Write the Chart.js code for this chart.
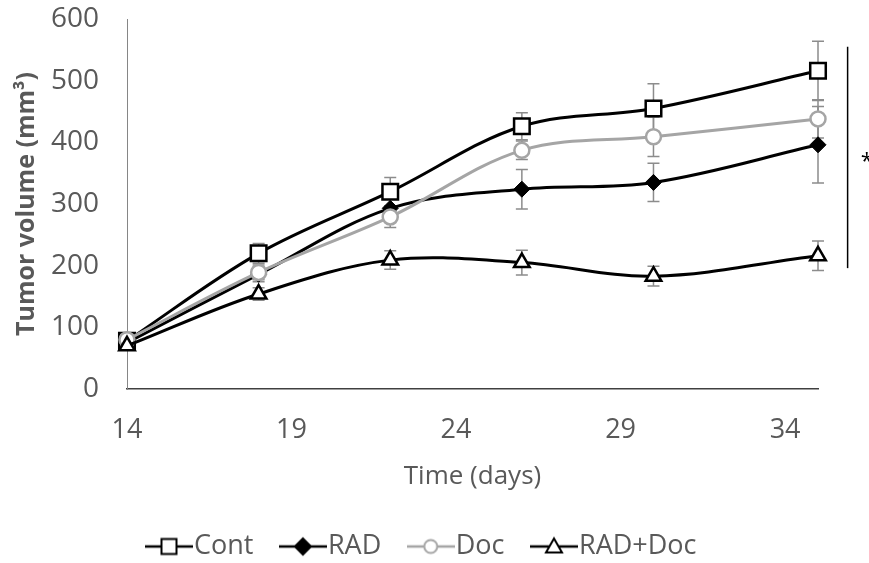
<!DOCTYPE html>
<html>
<head>
<meta charset="utf-8">
<script src="https://cdn.jsdelivr.net/npm/chart.js@4.4.1/dist/chart.umd.min.js"></script>
<style>
  html, body { margin: 0; padding: 0; background: #ffffff; }
  #wrap { width: 869px; height: 563px; }
</style>
</head>
<body>
<div id="wrap"><canvas id="tumorChart" width="869" height="563"></canvas></div>
<script>
// Data
const days = [14, 18, 22, 26, 30, 35];
const xTicks = [14, 19, 24, 29, 34];

const contVol = [78, 220, 320, 426, 455, 516];
const radVol = [75, 186, 293, 324, 335, 396];
const docVol = [80, 189, 279, 387, 409, 438];
const radDocVol = [70, 154, 209, 205, 183, 216];

const contErr = [5, 16, 23, 22, 40, 48];
const radErr = [5, 12, 15, 32, 31, 62];
const docErr = [5, 12, 17, 15, 32, 31];
const radDocErr = [5, 10, 15, 20, 16, 24];

// significance bracket (volume range) and its label
const sigRange = [196, 555];
const sigLabel = '*';

const FONT = 'Open Sans';
const TEXT = '#595959';

const seriesVals = [contVol, radVol, docVol, radDocVol];
const seriesErr = [contErr, radErr, docErr, radDocErr];

function toPoints(vals) {
    return vals.map((v, i) => ({ x: days[i], y: v }));
}

// Small line + marker icons for the legend (Excel style)
function makeIcon(kind, color, fill) {
    const c = document.createElement('canvas');
    c.width = 48;
    c.height = 24;
    const g = c.getContext('2d');
    g.strokeStyle = color;
    g.lineWidth = 2.5;
    g.beginPath();
    g.moveTo(0, 12);
    g.lineTo(48, 12);
    g.stroke();
    g.fillStyle = fill;
    g.lineWidth = 2;
    g.beginPath();
    if (kind === 'rect') {
        g.rect(16.5, 4.5, 15, 15);
    } else if (kind === 'rectRot') {
        g.moveTo(24, 4); g.lineTo(32, 12); g.lineTo(24, 20); g.lineTo(16, 12); g.closePath();
    } else if (kind === 'circle') {
        g.arc(24, 12, 6.5, 0, Math.PI * 2);
    } else {
        g.moveTo(24, 4); g.lineTo(32, 18); g.lineTo(16, 18); g.closePath();
    }
    g.fill();
    g.stroke();
    return c;
}

const legendIcons = [
    makeIcon('rect', '#000000', '#ffffff'),
    makeIcon('rectRot', '#000000', '#000000'),
    makeIcon('circle', '#a5a5a5', '#ffffff'),
    makeIcon('triangle', '#000000', '#ffffff')
];

// Gray error bars under the markers
const errorBars = {
    id: 'errorBars',
    beforeDatasetsDraw(chart) {
        const { ctx, scales: { x, y } } = chart;
        ctx.save();
        ctx.strokeStyle = '#8c8c8c';
        ctx.lineWidth = 1.5;
        seriesErr.forEach((errs, i) => {
            errs.forEach((e, j) => {
                const v = seriesVals[i][j];
                const px = x.getPixelForValue(days[j]);
                const top = y.getPixelForValue(v + e);
                const bot = y.getPixelForValue(v - e);
                ctx.beginPath();
                ctx.moveTo(px, top);
                ctx.lineTo(px, bot);
                ctx.moveTo(px - 6, top);
                ctx.lineTo(px + 6, top);
                ctx.moveTo(px - 6, bot);
                ctx.lineTo(px + 6, bot);
                ctx.stroke();
            });
        });
        ctx.restore();
    }
};

// Vertical significance bracket with asterisk at the right
const sigMark = {
    id: 'sigMark',
    afterDraw(chart) {
        const { ctx, scales: { x, y } } = chart;
        const lx = x.getPixelForValue(35.9);
        ctx.save();
        ctx.strokeStyle = '#000000';
        ctx.lineWidth = 1.5;
        ctx.beginPath();
        ctx.moveTo(lx, y.getPixelForValue(sigRange[1]));
        ctx.lineTo(lx, y.getPixelForValue(sigRange[0]));
        ctx.stroke();
        ctx.fillStyle = '#000000';
        ctx.font = '22px "' + FONT + '"';
        ctx.textAlign = 'left';
        ctx.textBaseline = 'middle';
        ctx.fillText(sigLabel, x.getPixelForValue(36.3), y.getPixelForValue((sigRange[0] + sigRange[1]) / 2) + 4);
        ctx.restore();
    }
};

const ctx = document.getElementById('tumorChart').getContext('2d');

new Chart(ctx, {
    type: 'line',
    data: {
        datasets: [
            {
                label: 'Cont',
                data: toPoints(contVol),
                borderColor: '#000000',
                borderWidth: 3,
                tension: 0.35,
                pointStyle: 'rect',
                pointRadius: 11,
                pointBorderWidth: 2.5,
                pointBorderColor: '#000000',
                pointBackgroundColor: '#ffffff',
                clip: false,
                order: 4
            },
            {
                label: 'RAD',
                data: toPoints(radVol),
                borderColor: '#000000',
                borderWidth: 3,
                tension: 0.35,
                pointStyle: 'rectRot',
                pointRadius: 8,
                pointBorderWidth: 1,
                pointBorderColor: '#000000',
                pointBackgroundColor: '#000000',
                clip: false,
                order: 3
            },
            {
                label: 'Doc',
                data: toPoints(docVol),
                borderColor: '#a5a5a5',
                borderWidth: 3,
                tension: 0.35,
                pointStyle: 'circle',
                pointRadius: 7.5,
                pointBorderWidth: 2.5,
                pointBorderColor: '#a5a5a5',
                pointBackgroundColor: '#ffffff',
                clip: false,
                order: 2
            },
            {
                label: 'RAD+Doc',
                data: toPoints(radDocVol),
                borderColor: '#000000',
                borderWidth: 3,
                tension: 0.35,
                pointStyle: 'triangle',
                pointRadius: 9,
                pointBorderWidth: 2.5,
                pointBorderColor: '#000000',
                pointBackgroundColor: '#ffffff',
                clip: false,
                order: 1
            }
        ]
    },
    options: {
        responsive: false,
        animation: false,
        events: [],
        layout: {
            padding: { left: 12, right: 27, top: 19, bottom: -7 }
        },
        scales: {
            x: {
                type: 'linear',
                min: 14,
                max: 35,
                afterBuildTicks(scale) {
                    scale.ticks = xTicks.map(v => ({ value: v }));
                },
                ticks: {
                    padding: 2,
                    color: TEXT,
                    font: { family: FONT, size: 27 }
                },
                grid: { display: false, drawTicks: true, tickLength: 23 },
                border: { color: '#404040', width: 1.5 },
                title: {
                    display: true,
                    text: 'Time (days)',
                    color: TEXT,
                    font: { family: FONT, size: 26 },
                    padding: { top: 0, bottom: 3 }
                },
                afterFit(scale) { scale.height = 106; }
            },
            y: {
                min: 0,
                max: 600,
                ticks: {
                    stepSize: 100,
                    padding: 2,
                    color: TEXT,
                    font: { family: FONT, size: 28 }
                },
                grid: { display: false, drawTicks: true, tickLength: 26 },
                border: { color: '#868686', width: 1 },
                title: {
                    display: true,
                    text: 'Tumor volume (mm³)',
                    color: TEXT,
                    font: { family: FONT, size: 25, weight: 'bold' },
                    padding: 0
                },
                afterFit(scale) { scale.width = 115; }
            },
            y2: {
                position: 'right',
                display: true,
                grid: { display: false, drawTicks: false },
                border: { display: false },
                ticks: { display: false },
                afterFit(scale) { scale.width = 24; }
            }
        },
        plugins: {
            legend: {
                position: 'bottom',
                labels: {
                    usePointStyle: true,
                    pointStyleWidth: 23,
                    padding: 38,
                    color: TEXT,
                    font: { family: FONT, size: 27 },
                    sort: (a, b) => a.datasetIndex - b.datasetIndex,
                    generateLabels(chart) {
                        const items = Chart.defaults.plugins.legend.labels.generateLabels(chart);
                        items.forEach(it => { it.pointStyle = legendIcons[it.datasetIndex]; });
                        return items;
                    }
                }
            },
            tooltip: { enabled: false }
        }
    },
    plugins: [errorBars, sigMark]
});
</script>
</body>
</html>
